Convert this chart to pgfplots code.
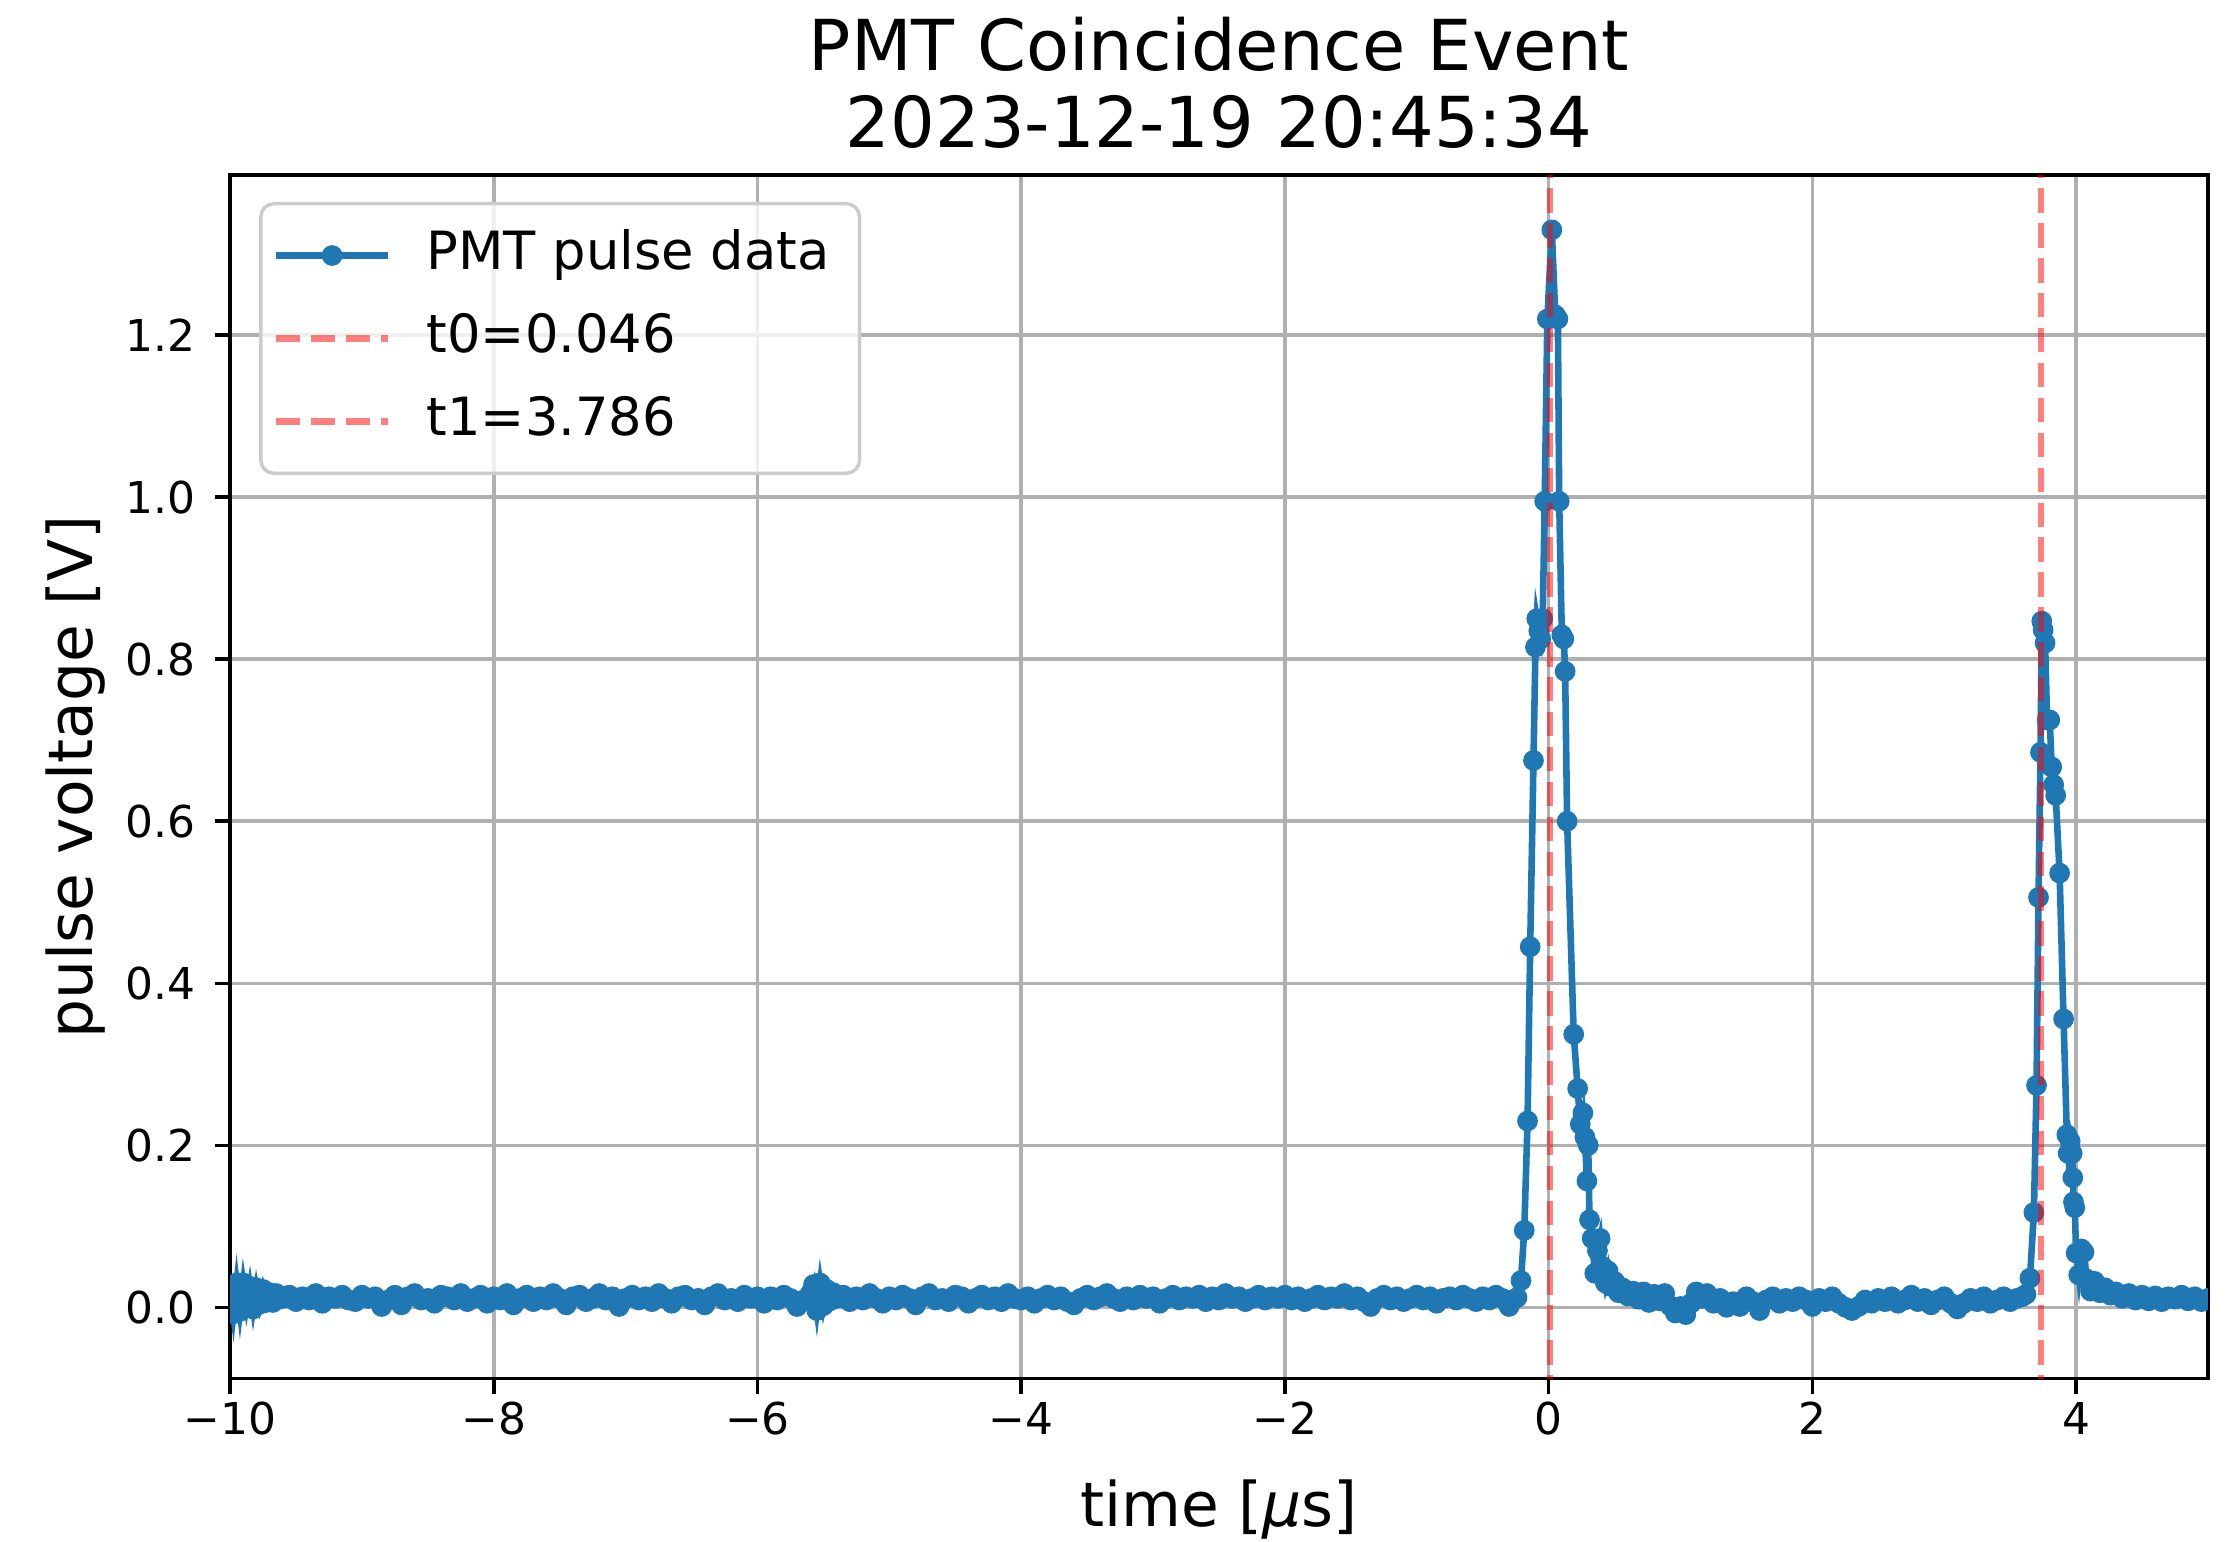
\documentclass[border=0pt]{standalone}
\usepackage{fontspec}
\setmainfont{DejaVu Sans}
\usepackage{pgfplots}
\pgfplotsset{compat=1.18}
\definecolor{mplblue}{HTML}{1F77B4}
\pgfplotsset{
  tracelegend/.style={legend image code/.code={\draw[mark repeat=2,mark phase=2,##1] plot coordinates {(0pt,0pt) (12.8pt,0pt) (25.6pt,0pt)};}},
  vlinelegend/.style={legend image code/.code={\draw[##1] (0pt,0pt) -- (25.6pt,0pt);}},
}

\begin{document}
\begin{tikzpicture}
\begin{axis}[
  name=ax,
  scale only axis,
  width=450.5pt, height=274.1pt,
  xmin=-10, xmax=5, ymin=-0.088, ymax=1.3975,
  xtick={-10,-8,-6,-4,-2,0,2,4},
  xticklabels={−10,−8,−6,−4,−2,0,2,4},
  ytick={0,0.2,0.4,0.6,0.8,1.0,1.2},
  yticklabels={0.0,0.2,0.4,0.6,0.8,1.0,1.2},
  tick align=outside, tick pos=left,
  major tick length=3.5pt,
  every tick/.style={black, line width=0.8pt},
  axis line style={line width=0.8pt},
  grid=major,
  major grid style={color=black!31, line width=0.8pt},
  ticklabel style={font=\fontsize{10}{12}\selectfont, inner sep=0pt},
  xticklabel style={yshift=-1.7pt},
  yticklabel style={xshift=-4.2pt},
  title={PMT Coincidence Event\\[-0.6pt]2023-12-19 20:45:34},
  title style={at={(axis description cs:0.5,0.9992)}, anchor=south, inner sep=0pt,
    align=center, font=\fontsize{16}{18.2}\selectfont},
  xlabel={time [{\itshape μ}s]},
  xlabel style={at={(axis description cs:0.5,-0.1233)}, anchor=base, inner sep=0pt,
    font=\fontsize{14}{16}\selectfont},
  ylabel={pulse voltage [V]},
  ylabel style={at={(axis description cs:-0.0697,0.5)}, anchor=base, inner sep=0pt,
    font=\fontsize{14}{16}\selectfont},
  legend style={at={(axis description cs:0,1)}, anchor=north west,
    xshift=6.6pt, yshift=-6.1pt,
    draw=black!20, line width=0.8pt, rounded corners=3pt,
    fill=white, fill opacity=0.8, text opacity=1,
    font=\fontsize{12}{14}\selectfont,
    inner xsep=2.7pt, inner ysep=6pt, row sep=7.3pt, column sep=8pt,
    nodes={inner sep=0pt, text height=9pt, text depth=2.6pt}},
  legend cell align=left,
  clip marker paths=true,
]

% PMT trace
\addplot[color=mplblue, line width=1.5pt, mark=*, mark size=1.6pt, tracelegend]
coordinates {
(-10.00,0.026) (-9.975,-0.008) (-9.95,0.030) (-9.925,-0.005) (-9.90,0.030) (-9.875,0.002)
(-9.85,0.026) (-9.825,-0.002) (-9.80,0.024) (-9.775,0.004) (-9.75,0.022) (-9.725,0.006)
(-9.70,0.018) (-9.675,0.006) (-9.65,0.017)
(-9.60,0.011) (-9.55,0.015) (-9.50,0.007) (-9.45,0.013) (-9.40,0.009) (-9.35,0.017)
(-9.30,0.005) (-9.25,0.013) (-9.20,0.011) (-9.15,0.015) (-9.10,0.009) (-9.05,0.007)
(-9.00,0.015) (-8.95,0.011) (-8.90,0.013) (-8.85,0.001) (-8.80,0.009) (-8.75,0.015)
(-8.70,0.003) (-8.65,0.013) (-8.60,0.017) (-8.55,0.009) (-8.50,0.011) (-8.45,0.005)
(-8.40,0.015) (-8.35,0.013) (-8.30,0.009) (-8.25,0.017) (-8.20,0.007) (-8.15,0.011)
(-8.10,0.015) (-8.05,0.005) (-8.00,0.013) (-7.95,0.009) (-7.90,0.017) (-7.85,0.003)
(-7.80,0.011) (-7.75,0.015) (-7.70,0.007) (-7.65,0.013) (-7.60,0.009) (-7.55,0.017)
(-7.50,0.011) (-7.45,0.003) (-7.40,0.013) (-7.35,0.015) (-7.30,0.007) (-7.25,0.011)
(-7.20,0.017) (-7.15,0.009) (-7.10,0.013) (-7.05,0.001) (-7.00,0.011) (-6.95,0.015)
(-6.90,0.009) (-6.85,0.013) (-6.80,0.007) (-6.75,0.017) (-6.70,0.011) (-6.65,0.005)
(-6.60,0.013) (-6.55,0.015) (-6.50,0.009) (-6.45,0.011) (-6.40,0.003) (-6.35,0.013)
(-6.30,0.017) (-6.25,0.009) (-6.20,0.011) (-6.15,0.007) (-6.10,0.015) (-6.05,0.011)
(-6.00,0.013) (-5.95,0.005) (-5.90,0.013) (-5.85,0.009) (-5.80,0.015) (-5.75,0.011)
(-5.70,0.001) (-5.65,0.009) (-5.60,0.017)
(-5.575,0.028) (-5.55,-0.004) (-5.525,0.030) (-5.50,0.002) (-5.475,0.022) (-5.45,0.008)
(-5.425,0.018)
(-5.40,0.011) (-5.35,0.015) (-5.30,0.007) (-5.25,0.013) (-5.20,0.009) (-5.15,0.017)
(-5.10,0.011) (-5.05,0.005) (-5.00,0.013) (-4.95,0.009) (-4.90,0.015) (-4.85,0.011)
(-4.80,0.003) (-4.75,0.013) (-4.70,0.017) (-4.65,0.009) (-4.60,0.011) (-4.55,0.007)
(-4.50,0.015) (-4.45,0.013) (-4.40,0.005) (-4.35,0.011) (-4.30,0.015) (-4.25,0.009)
(-4.20,0.013) (-4.15,0.007) (-4.10,0.017) (-4.05,0.011) (-4.00,0.009) (-3.95,0.013)
(-3.90,0.005) (-3.85,0.011) (-3.80,0.015) (-3.75,0.009) (-3.70,0.013) (-3.65,0.007)
(-3.60,0.003) (-3.55,0.011) (-3.50,0.015) (-3.45,0.009) (-3.40,0.013) (-3.35,0.017)
(-3.30,0.011) (-3.25,0.007) (-3.20,0.013) (-3.15,0.009) (-3.10,0.015) (-3.05,0.011)
(-3.00,0.013) (-2.95,0.005) (-2.90,0.011) (-2.85,0.015) (-2.80,0.009) (-2.75,0.013)
(-2.70,0.011) (-2.65,0.015) (-2.60,0.007) (-2.55,0.013) (-2.50,0.009) (-2.45,0.017)
(-2.40,0.011) (-2.35,0.013) (-2.30,0.007) (-2.25,0.011) (-2.20,0.015) (-2.15,0.009)
(-2.10,0.013) (-2.05,0.011) (-2.00,0.015) (-1.95,0.009) (-1.90,0.013) (-1.85,0.007)
(-1.80,0.011) (-1.75,0.015) (-1.70,0.009) (-1.65,0.013) (-1.60,0.011) (-1.55,0.017)
(-1.50,0.009) (-1.45,0.013) (-1.40,0.007) (-1.35,0.001) (-1.30,0.011) (-1.25,0.015)
(-1.20,0.009) (-1.15,0.013) (-1.10,0.007) (-1.05,0.011) (-1.00,0.015) (-0.95,0.009)
(-0.90,0.013) (-0.85,0.005) (-0.80,0.011) (-0.75,0.013) (-0.70,0.009) (-0.65,0.015)
(-0.60,0.011) (-0.55,0.007) (-0.50,0.013) (-0.45,0.009) (-0.40,0.015) (-0.35,0.011)
(-0.30,0.001) (-0.27,0.009)
(-0.24,0.012) (-0.21,0.033) (-0.185,0.095) (-0.16,0.230) (-0.14,0.445) (-0.115,0.675)
(-0.10,0.815) (-0.09,0.850) (-0.075,0.835) (-0.06,0.825) (-0.045,0.850) (-0.03,0.995)
(-0.01,1.220) (0.024,1.330) (0.05,1.225) (0.07,1.220) (0.08,0.995) (0.10,0.830)
(0.115,0.825) (0.125,0.785) (0.14,0.600) (0.19,0.337) (0.22,0.270) (0.24,0.226)
(0.26,0.240) (0.275,0.210) (0.29,0.156) (0.30,0.200) (0.31,0.108) (0.33,0.085)
(0.35,0.042) (0.37,0.070) (0.39,0.085) (0.41,0.050) (0.43,0.030) (0.45,0.045)
(0.47,0.026) (0.50,0.032) (0.53,0.018) (0.56,0.024) (0.60,0.014) (0.64,0.020)
(0.68,0.010) (0.72,0.019) (0.76,0.006) (0.80,0.016) (0.84,0.008) (0.88,0.017)
(0.92,0.002) (0.96,-0.007) (1.00,0.001) (1.04,-0.009) (1.08,0.005) (1.12,0.019)
(1.16,0.011) (1.20,0.017) (1.25,0.005) (1.30,0.011) (1.35,0.000) (1.40,0.007)
(1.45,0.001) (1.50,0.013) (1.55,0.007) (1.60,-0.004) (1.65,0.009) (1.70,0.013)
(1.75,0.005) (1.80,0.011) (1.85,0.007) (1.90,0.013) (1.95,0.009) (2.00,0.001)
(2.05,0.011) (2.10,0.007) (2.15,0.013) (2.20,0.005) (2.25,0.000) (2.30,-0.004)
(2.35,0.001) (2.40,0.009) (2.45,0.005) (2.50,0.011) (2.55,0.007) (2.60,0.013)
(2.65,0.005) (2.70,0.009) (2.75,0.015) (2.80,0.007) (2.85,0.011) (2.90,0.003)
(2.95,0.009) (3.00,0.013) (3.05,0.005) (3.10,-0.002) (3.15,0.005) (3.20,0.011)
(3.25,0.007) (3.30,0.013) (3.35,0.005) (3.40,0.009) (3.45,0.013) (3.50,0.007)
(3.55,0.011) (3.59,0.013)
(3.62,0.016) (3.65,0.036) (3.68,0.117) (3.70,0.274) (3.715,0.506) (3.73,0.685)
(3.74,0.847) (3.75,0.836) (3.765,0.820) (3.78,0.725) (3.80,0.725) (3.815,0.667)
(3.83,0.645) (3.845,0.632) (3.875,0.536) (3.905,0.356) (3.93,0.213) (3.94,0.190)
(3.955,0.205) (3.97,0.190) (3.975,0.160) (3.98,0.130) (3.99,0.123) (4.00,0.067)
(4.02,0.040) (4.04,0.072) (4.06,0.068) (4.08,0.035) (4.11,0.020) (4.14,0.032)
(4.18,0.018) (4.22,0.024) (4.26,0.015) (4.30,0.019) (4.35,0.011) (4.40,0.017)
(4.45,0.009) (4.50,0.015) (4.55,0.008) (4.60,0.014) (4.65,0.007) (4.70,0.013)
(4.75,0.010) (4.80,0.015) (4.85,0.008) (4.90,0.013) (4.95,0.007) (5.00,0.011)
};
\addlegendentry{PMT pulse data\kern4.1pt}

% t0 and t1 markers
\addplot[red, draw opacity=0.5, line width=1.5pt, dash pattern=on 5.55pt off 2.4pt, vlinelegend]
coordinates {(0.011,-0.2) (0.011,1.6)};
\addlegendentry{t0=0.046}
\addplot[red, draw opacity=0.5, line width=1.5pt, dash pattern=on 5.55pt off 2.4pt, vlinelegend]
coordinates {(3.735,-0.2) (3.735,1.6)};
\addlegendentry{t1=3.786}

\end{axis}
\pgfresetboundingbox
\path ([shift={(-52.4pt,-37.0pt)}]ax.south west) rectangle ([shift={(455.3pt,314.0pt)}]ax.south west);
\end{tikzpicture}
\end{document}
